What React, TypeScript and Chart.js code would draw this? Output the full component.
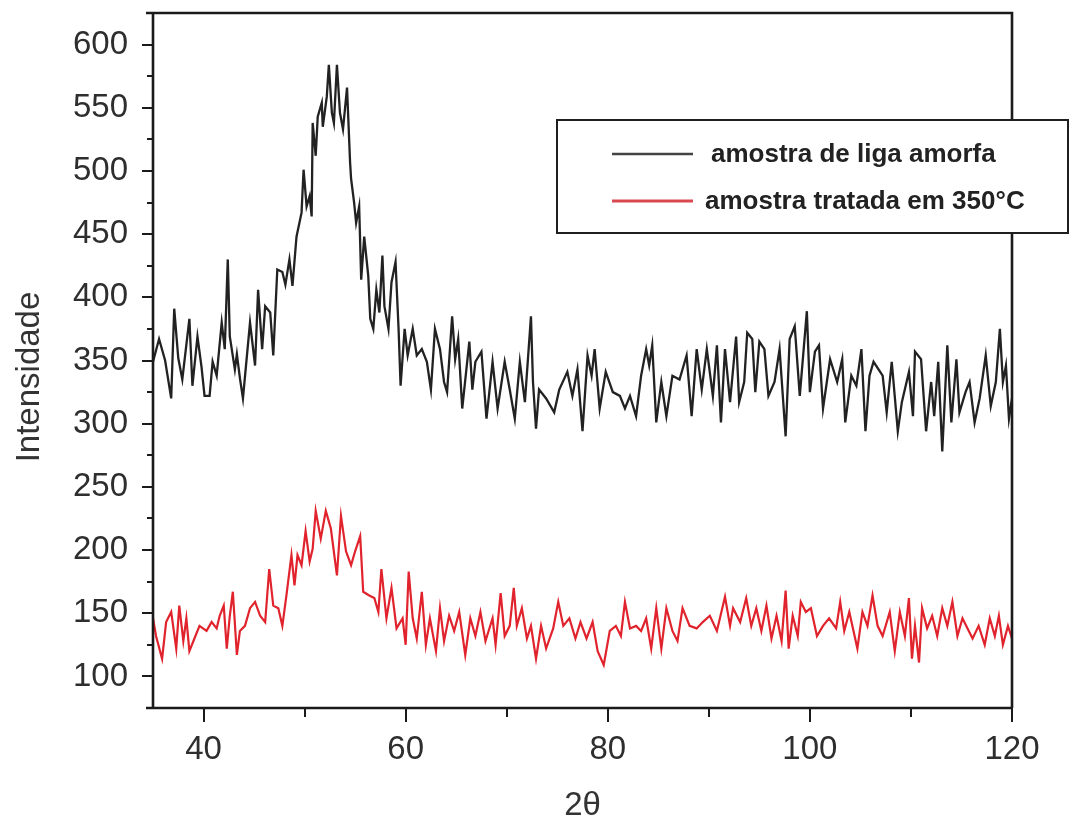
import React, { useEffect, useRef } from "react";
import { Chart, registerables } from "chart.js";

Chart.register(...registerables);

// ---------- data ----------
const blackTwoTheta = [
  35.0, 35.6, 36.2, 36.8, 37.1, 37.5, 37.9, 38.6, 38.9, 39.4, 39.8, 40.1, 40.6, 40.9, 41.3, 41.8, 42.1, 42.4, 42.6, 43.1,
  43.3, 43.6, 43.9, 44.6, 45.1, 45.4, 45.8, 46.1, 46.6, 46.9, 47.3, 47.8, 48.1, 48.5, 48.8, 49.2, 49.7, 49.9, 50.2, 50.5,
  50.7, 50.8, 51.1, 51.3, 51.7, 51.8, 52.2, 52.4, 52.7, 52.9, 53.2, 53.5, 53.8, 54.2, 54.5, 54.6, 54.9, 55.1, 55.4, 55.6,
  55.9, 56.3, 56.5, 56.8, 57.1, 57.4, 57.7, 57.9, 58.3, 58.6, 59.0, 59.3, 59.5, 59.9, 60.2, 60.7, 61.1, 61.6, 62.1, 62.5,
  62.9, 63.4, 63.8, 64.1, 64.6, 64.9, 65.2, 65.6, 66.3, 66.6, 66.9, 67.5, 68.0, 68.6, 69.1, 69.8, 70.3, 70.8, 71.3, 71.8,
  72.4, 72.6, 72.9, 73.2, 73.9, 74.7, 75.2, 76.0, 76.5, 77.0, 77.5, 78.0, 78.4, 78.7, 79.2, 79.8, 80.5, 81.2, 81.7, 82.2,
  82.8, 83.3, 83.8, 84.1, 84.4, 84.8, 85.3, 85.8, 86.4, 87.1, 87.8, 88.3, 88.8, 89.3, 89.8, 90.4, 90.8, 91.2, 91.6, 92.1,
  92.7, 93.0, 93.5, 93.8, 94.3, 94.6, 95.0, 95.5, 95.9, 96.5, 97.0, 97.6, 98.0, 98.5, 99.0, 99.7, 100.0, 100.5, 100.9, 101.3,
  102.0, 102.7, 103.2, 103.5, 104.1, 104.6, 105.1, 105.5, 105.9, 106.3, 107.2, 107.6, 108.1, 108.7, 109.1, 109.8, 110.2, 110.4, 111.0, 111.5,
  112.0, 112.3, 112.7, 113.1, 113.6, 114.0, 114.5, 114.8, 115.4, 115.8, 116.3, 116.8, 117.4, 117.9, 118.4, 118.8, 119.1, 119.4, 119.7, 120.0,
];
const blackIntensity = [
  349, 367, 350, 320, 391, 352, 335, 383, 330, 369, 345, 322, 322, 349, 338, 380, 359, 430, 369, 343,
  355, 336, 320, 380, 346, 406, 359, 393, 388, 354, 422, 420, 410, 430, 409, 448, 467, 501, 472, 480,
  464, 538, 512, 543, 554, 535, 559, 584, 546, 538, 584, 546, 533, 566, 507, 494, 475, 459, 472, 414,
  448, 417, 383, 375, 406, 388, 433, 393, 375, 412, 428, 375, 330, 375, 354, 375, 354, 359, 349, 327,
  375, 359, 333, 325, 385, 351, 367, 312, 365, 327, 349, 357, 304, 349, 312, 349, 327, 304, 349, 317,
  385, 333, 296, 327, 320, 309, 327, 341, 322, 343, 294, 354, 338, 359, 312, 341, 325, 322, 312, 322,
  306, 338, 359, 346, 362, 301, 333, 306, 338, 335, 354, 306, 359, 327, 359, 322, 362, 301, 359, 317,
  369, 317, 333, 372, 367, 325, 365, 359, 322, 333, 359, 290, 367, 377, 322, 389, 325, 357, 362, 312,
  351, 333, 351, 301, 338, 330, 359, 294, 338, 349, 338, 309, 349, 294, 317, 341, 306, 357, 351, 294,
  333, 306, 349, 278, 362, 301, 351, 309, 325, 333, 301, 320, 354, 314, 333, 375, 333, 346, 304, 320,
];

const redTwoTheta = [
  35.0, 35.3, 35.9, 36.3, 36.8, 37.3, 37.6, 38.0, 38.3, 38.6, 39.1, 39.6, 40.3, 40.8, 41.3, 41.6, 42.0, 42.3, 42.6, 42.9,
  43.3, 43.6, 44.1, 44.6, 45.1, 45.6, 46.1, 46.5, 46.9, 47.4, 47.8, 48.2, 48.7, 49.0, 49.3, 49.7, 50.1, 50.5, 50.8, 51.1,
  51.6, 52.1, 52.6, 53.2, 53.6, 54.1, 54.6, 55.0, 55.5, 55.8, 56.4, 56.9, 57.3, 57.6, 58.1, 58.6, 59.1, 59.7, 60.0, 60.3,
  60.7, 61.1, 61.6, 62.0, 62.4, 63.0, 63.4, 63.8, 64.3, 64.8, 65.3, 65.9, 66.4, 66.9, 67.4, 67.9, 68.6, 68.9, 69.4, 69.8,
  70.3, 70.7, 71.0, 71.5, 72.0, 72.4, 72.9, 73.4, 73.9, 74.6, 75.1, 75.6, 76.2, 76.8, 77.3, 77.9, 78.5, 79.0, 79.6, 80.2,
  80.8, 81.3, 81.7, 82.2, 82.8, 83.3, 83.8, 84.3, 84.8, 85.3, 85.8, 86.4, 86.9, 87.4, 88.1, 88.8, 89.4, 90.1, 90.8, 91.6,
  92.1, 92.4, 93.1, 93.7, 94.2, 94.7, 95.2, 95.7, 96.2, 96.7, 97.2, 97.6, 97.9, 98.3, 98.8, 99.1, 99.6, 100.1, 100.7, 101.3,
  101.9, 102.6, 103.0, 103.4, 103.9, 104.7, 105.2, 105.7, 106.2, 106.7, 107.2, 107.9, 108.4, 108.9, 109.4, 109.8, 110.1, 110.4, 110.8, 111.1,
  111.6, 112.1, 112.6, 113.1, 113.6, 114.1, 114.6, 115.1, 115.6, 116.1, 116.7, 117.3, 117.8, 118.3, 118.7, 119.1, 119.6, 120.0,
];
const redIntensity = [
  146, 132, 114, 143, 151, 122, 156, 128, 146, 120, 130, 140, 136, 143, 138, 148, 156, 122, 148, 167,
  117, 136, 140, 154, 159, 148, 143, 185, 156, 154, 140, 164, 196, 172, 196, 188, 215, 191, 201, 231,
  209, 231, 217, 180, 227, 199, 188, 199, 211, 167, 164, 162, 151, 185, 146, 170, 138, 146, 125, 183,
  146, 130, 167, 125, 146, 120, 154, 128, 148, 136, 151, 117, 146, 132, 151, 128, 146, 125, 166, 132,
  140, 170, 140, 154, 130, 140, 114, 140, 122, 138, 159, 140, 146, 130, 143, 130, 143, 120, 109, 136,
  140, 132, 159, 138, 140, 136, 146, 122, 154, 122, 154, 136, 128, 154, 140, 138, 143, 148, 136, 163,
  140, 154, 143, 162, 140, 154, 136, 156, 130, 148, 128, 168, 122, 148, 132, 159, 151, 154, 132, 140,
  146, 138, 159, 136, 151, 122, 151, 140, 164, 140, 132, 151, 120, 151, 132, 162, 114, 140, 111, 154,
  138, 148, 132, 154, 140, 159, 132, 146, 138, 130, 140, 125, 146, 132, 148, 125, 140, 130,
];

const seriesLabels = ["amostra de liga amorfa", "amostra tratada em 350°C"];
const seriesColors = ["#222222", "#e0232c"];
const xMajorTicks = [40, 60, 80, 100, 120];
const xMinorTicks = [50, 70, 90, 110];
const yMajorTicks = [100, 150, 200, 250, 300, 350, 400, 450, 500, 550, 600];
const yMinorTicks = [125, 175, 225, 275, 325, 375, 425, 475, 525, 575];
const xTitle = "2θ";
const yTitle = "Intensidade";
const xRange = [35, 120];
const yRange = [75, 625];

const FONT = "'Liberation Sans', Arial, Helvetica, sans-serif";

const decorPlugin = {
  id: "decor",
  afterDatasetsDraw(chart: any) {
    const { ctx, chartArea: a, scales } = chart;
    const xs = scales.x;
    const ys = scales.y;
    ctx.save();
    ctx.strokeStyle = "#1a1a1a";
    ctx.lineCap = "butt";
    // frame
    ctx.lineWidth = 2.6;
    ctx.beginPath();
    ctx.moveTo(a.left - 7, a.top);
    ctx.lineTo(a.right, a.top);
    ctx.lineTo(a.right, a.bottom);
    ctx.moveTo(a.left - 7, a.bottom);
    ctx.lineTo(a.right, a.bottom);
    ctx.moveTo(a.left, a.top);
    ctx.lineTo(a.left, a.bottom);
    ctx.stroke();
    // tick marks
    ctx.lineWidth = 2;
    ctx.beginPath();
    for (const v of xMajorTicks) {
      const p = Math.round(xs.getPixelForValue(v));
      ctx.moveTo(p, a.bottom);
      ctx.lineTo(p, a.bottom + 14);
    }
    for (const v of xMinorTicks) {
      const p = Math.round(xs.getPixelForValue(v));
      ctx.moveTo(p, a.bottom);
      ctx.lineTo(p, a.bottom + 9);
    }
    for (const v of yMajorTicks) {
      const p = Math.round(ys.getPixelForValue(v));
      ctx.moveTo(a.left, p);
      ctx.lineTo(a.left - 11, p);
    }
    for (const v of yMinorTicks) {
      const p = Math.round(ys.getPixelForValue(v));
      ctx.moveTo(a.left, p);
      ctx.lineTo(a.left - 6, p);
    }
    ctx.stroke();
    ctx.restore();
  },
  afterDraw(chart: any) {
    const { ctx, chartArea: a } = chart;
    ctx.save();
    // axis titles
    ctx.fillStyle = "#333";
    ctx.font = `33px ${FONT}`;
    ctx.textAlign = "center";
    ctx.textBaseline = "middle";
    ctx.fillText(xTitle, (a.left + a.right) / 2, 806);
    ctx.save();
    ctx.translate(30, 377);
    ctx.rotate(-Math.PI / 2);
    ctx.fillText(yTitle, 0, 0);
    ctx.restore();

    // legend box
    const bx = 557, by = 120, bw = 511, bh = 113;
    ctx.fillStyle = "#fff";
    ctx.fillRect(bx, by, bw, bh);
    ctx.strokeStyle = "#1f1f1f";
    ctx.lineWidth = 2;
    ctx.strokeRect(bx, by, bw, bh);
    const rows = [
      { y: 154, lineX: [612, 693], textX: 711 },
      { y: 201, lineX: [612, 693], textX: 705 },
    ];
    rows.forEach((r, i) => {
      ctx.strokeStyle = i === 0 ? "#444" : "#d9474f";
      ctx.lineWidth = i === 0 ? 2.5 : 3;
      ctx.beginPath();
      ctx.moveTo(r.lineX[0], r.y);
      ctx.lineTo(r.lineX[1], r.y);
      ctx.stroke();
      ctx.fillStyle = "#222";
      ctx.font = `bold 26px ${FONT}`;
      ctx.textAlign = "left";
      ctx.textBaseline = "middle";
      ctx.fillText(seriesLabels[i], r.textX, r.y + 1);
    });
    ctx.restore();
  },
};

export default function App() {
  const canvasRef = useRef<HTMLCanvasElement | null>(null);

  useEffect(() => {
    const canvas = canvasRef.current;
    if (!canvas) return;
    const toPoints = (xs: number[], ys: number[]) => xs.map((x, i) => ({ x, y: ys[i] }));
    const chart = new Chart(canvas, {
      type: "line",
      data: {
        datasets: [
          {
            label: seriesLabels[0],
            data: toPoints(blackTwoTheta, blackIntensity),
            borderColor: seriesColors[0],
            borderWidth: 2.3,
            pointRadius: 0,
            tension: 0,
            fill: false,
          },
          {
            label: seriesLabels[1],
            data: toPoints(redTwoTheta, redIntensity),
            borderColor: seriesColors[1],
            borderWidth: 2.2,
            pointRadius: 0,
            tension: 0,
            fill: false,
          },
        ],
      },
      options: {
        responsive: false,
        devicePixelRatio: 1,
        animation: false,
        events: [],
        layout: { padding: { left: 0, top: 13, right: 58, bottom: 0 } },
        plugins: { legend: { display: false }, tooltip: { enabled: false }, title: { display: false } },
        scales: {
          x: {
            type: "linear",
            position: "bottom",
            min: xRange[0],
            max: xRange[1],
            grid: { display: false, drawTicks: false },
            border: { display: false },
            afterFit: (s: any) => {
              s.height = 115;
              s.paddingLeft = 0;
              s.paddingRight = 0;
            },
            afterBuildTicks: (s: any) => {
              s.ticks = xMajorTicks.map((v) => ({ value: v }));
            },
            ticks: {
              autoSkip: false,
              maxRotation: 0,
              padding: 22,
              color: "#2e2e2e",
              font: { size: 33, family: FONT },
            },
          },
          y: {
            type: "linear",
            position: "left",
            min: yRange[0],
            max: yRange[1],
            grid: { display: false, drawTicks: false },
            border: { display: false },
            afterFit: (s: any) => {
              s.width = 153;
              s.paddingTop = 0;
              s.paddingBottom = 0;
            },
            afterBuildTicks: (s: any) => {
              s.ticks = yMajorTicks.map((v) => ({ value: v }));
            },
            ticks: {
              autoSkip: false,
              padding: 25,
              color: "#2e2e2e",
              font: { size: 33, family: FONT },
            },
          },
        },
      },
      plugins: [decorPlugin],
    });
    return () => chart.destroy();
  }, []);

  return (
    <div style={{ position: "absolute", left: 0, top: 0, width: 1070, height: 823, background: "#fff" }}>
      <canvas ref={canvasRef} width={1070} height={823} style={{ display: "block", width: 1070, height: 823 }} />
    </div>
  );
}
